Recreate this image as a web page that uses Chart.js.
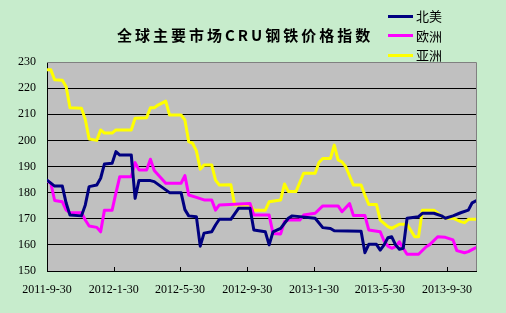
<!DOCTYPE html>
<html>
<head>
<meta charset="utf-8">
<script src="https://cdn.jsdelivr.net/npm/chart.js@4.4.1/dist/chart.umd.min.js"></script>
<style>
  html, body { margin: 0; padding: 0; background: #C7ECCC; }
  #wrap { position: relative; width: 506px; height: 313px; background: #C7ECCC; overflow: hidden; }
  #c { position: absolute; left: 0; top: 0; }
  #title { position: absolute; left: 117px; top: 25px; font: bold 15px "Noto Sans CJK SC", sans-serif; letter-spacing: 3px; color: #000; white-space: nowrap; line-height: 20px; }
  .leg { position: absolute; left: 388px; height: 18px; white-space: nowrap; font: 13px "Noto Sans CJK SC", sans-serif; color: #000; line-height: 18px; }
  .leg span.sw { display: inline-block; width: 25px; height: 3px; vertical-align: middle; margin-right: 3px; position: relative; top: -1px; }
</style>
</head>
<body>
<div id="wrap">
  <canvas id="c" width="506" height="313"></canvas>
  <div id="title">全球主要市场CRU钢铁价格指数</div>
  <div id="legend"></div>
</div>
<script>
// ---- data (x = weeks since 2011-9-30) ----
const chartTitle = '全球主要市场CRU钢铁价格指数';
const seriesNames = ['北美', '欧洲', '亚洲'];
const seriesColors = ['#000080', '#FF00FF', '#FFFF00'];

const startDate = '2011-09-30';
const tickDates = ['2011-09-30', '2012-01-30', '2012-05-30', '2012-09-30', '2013-01-30', '2013-05-30', '2013-09-30'];
const tickLabels = ['2011-9-30', '2012-1-30', '2012-5-30', '2012-9-30', '2013-1-30', '2013-5-30', '2013-9-30'];
const yTicks = [150, 160, 170, 180, 190, 200, 210, 220, 230];

const naWeeks = [0,2,4,5,6,9,10,11,13,14,15,17,18,19,22,23,24,27,28,32,35,36,37,39,40,41,43,44,45,48,50,53,54,57,58,59,61,63,64,70,72,74,75,82,83,84,86,87,88,89,90,91,92,93,94,97,98,101,103,104,106,108,110,111,112];
const naValues = [184.8,182.5,182.5,176,171.4,171.1,175.3,182.3,182.9,185.5,191,191.2,195.7,194.4,194.4,177.8,184.6,184.6,184.2,180,180,173.5,171.1,170.8,159.5,164.5,165,167.6,169.8,169.8,174,174,165.7,165,160,165,166.3,170.2,171.1,170.2,166.6,166.3,165.4,165.2,157,160.2,160.2,158,160,162.7,163.1,160,158.3,158.7,170.2,170.8,172.1,172.1,171.1,170.2,171.1,172.3,173.3,176.1,176.9];

const euWeeks = [0,1,2,4,5,6,9,10,11,13,14,15,17,18,19,22,23,24,26,27,28,31,35,36,37,39,41,43,44,45,53,54,58,59,61,62,63,66,67,70,72,76,77,79,80,83,84,87,88,89,90,91,92,93,94,97,99,100,102,104,106,107,109,110,112];
const euValues = [184.6,183.6,177,176.5,173.3,172.3,172.3,169.5,167.2,166.7,165,173.3,173.3,179.9,186.1,186.1,191.5,188.7,188.7,192.8,188.5,183.6,183.6,186.5,179.1,178.2,177.2,177.2,173.3,175.3,175.8,171.4,171.4,164.4,164.2,168.9,169.5,169.5,171.4,172.1,174.9,174.9,172.7,175.8,171.2,171.2,165.7,165,161.5,159.5,158.7,159.3,161.2,158.7,156.4,156.4,159.3,160.2,163.1,162.9,161.9,157.8,157,157.4,159];

const asWeeks = [0,1,2,4,5,6,9,10,11,13,14,15,17,18,22,23,26,27,28,29,31,32,35,36,37,38,39,40,41,43,44,45,48,49,53,54,57,58,61,62,63,65,67,70,71,72,74,75,76,77,78,80,82,83,84,86,87,89,90,92,94,96,97,98,101,102,103,104,106,108,109,110,112];
const asValues = [227,227,223.2,223,220.5,212.5,212.3,208,200.5,200,204,202.8,202.8,204,204,208.5,208.7,212.5,212.5,213.5,215,209.7,209.7,207.8,199.5,198.9,196,189,190.6,190.6,184.8,182.9,183,175.3,175.3,173.3,173.3,176.5,177.2,183.3,180.4,180.4,187.4,187.4,191.5,193.1,193.1,198.2,192.5,191.8,189.9,182.9,182.9,179,175.5,175.5,169.5,167,166.3,167.9,167.9,163.1,163.1,173.3,173.3,172.1,171,170.2,170.2,168.9,168.5,169.8,169.8];

const xMaxWeeks = 112;

// ---- helpers ----
const DAY = 86400000;
const toWeeks = d => (Date.parse(d) - Date.parse(startDate)) / (7 * DAY);
const tickWeeks = tickDates.map(toWeeks);
const pts = (w, v) => w.map((x, i) => ({ x: x, y: v[i] }));

document.getElementById('title').textContent = chartTitle;
const legendEl = document.getElementById('legend');
seriesNames.forEach((n, i) => {
  const d = document.createElement('div');
  d.className = 'leg';
  d.style.top = (7 + i * 19.5) + 'px';
  d.innerHTML = '<span class="sw" style="background:' + seriesColors[i] + '"></span>' + n;
  legendEl.appendChild(d);
});

const plotBg = {
  id: 'plotBg',
  beforeDraw(chart) {
    const { ctx, chartArea: a } = chart;
    ctx.save();
    ctx.fillStyle = '#C0C0C0';
    ctx.fillRect(a.left, a.top, a.right - a.left, a.bottom - a.top);
    ctx.restore();
  },
  afterDraw(chart) {
    const { ctx, chartArea: a } = chart;
    const xs = chart.scales.x;
    ctx.save();
    ctx.strokeStyle = '#808080';
    ctx.lineWidth = 1;
    ctx.beginPath();
    ctx.moveTo(a.left, a.top + 0.5);
    ctx.lineTo(a.right + 0.5, a.top + 0.5);
    ctx.lineTo(a.right + 0.5, a.bottom);
    ctx.stroke();
    ctx.strokeStyle = '#000';
    ctx.beginPath();
    tickWeeks.forEach(w => {
      const px = Math.round(xs.getPixelForValue(w)) + 0.5;
      ctx.moveTo(px, a.bottom);
      ctx.lineTo(px, a.bottom - 4);
    });
    ctx.stroke();
    ctx.restore();
  }
};

const datasets = [
  { label: seriesNames[0], data: pts(naWeeks, naValues) },
  { label: seriesNames[1], data: pts(euWeeks, euValues) },
  { label: seriesNames[2], data: pts(asWeeks, asValues) }
].map((d, i) => Object.assign(d, {
  borderColor: seriesColors[i], backgroundColor: seriesColors[i],
  borderWidth: 3, pointRadius: 0, tension: 0, fill: false,
  borderJoinStyle: 'round', borderCapStyle: 'round'
}));
// draw order: Asia bottom? keep Excel order (first drawn first)
const tickFont = { family: '"Liberation Serif", "Times New Roman", serif', size: 12 };

new Chart(document.getElementById('c'), {
  type: 'line',
  data: { datasets: datasets },
  plugins: [plotBg],
  options: {
    responsive: false,
    animation: false,
    devicePixelRatio: 1,
    layout: { padding: { left: 0, top: 62, right: 30, bottom: 0 } },
    plugins: { legend: { display: false }, title: { display: false }, tooltip: { enabled: false } },
    scales: {
      x: {
        type: 'linear', min: 0, max: xMaxWeeks,
        afterFit: s => { s.height = 42; },
        afterBuildTicks: s => { s.ticks = tickWeeks.map(v => ({ value: v })); },
        grid: { display: false, drawTicks: false },
        border: { display: true, color: '#000', width: 1 },
        ticks: {
          autoSkip: false, maxRotation: 0, minRotation: 0, padding: 12, color: '#000', font: tickFont,
          callback: (v, i) => tickLabels[i]
        }
      },
      y: {
        min: 150, max: 230,
        afterFit: s => { s.width = 47; },
        afterBuildTicks: s => { s.ticks = yTicks.map(v => ({ value: v })); },
        grid: {
          drawTicks: false, lineWidth: 1,
          color: c => (c.tick && c.tick.value === 230) ? '#808080' : '#000000'
        },
        border: { display: true, color: '#000', width: 1 },
        ticks: { padding: 11, color: '#000', font: tickFont, callback: v => String(v) }
      }
    }
  }
});
</script>
</body>
</html>
